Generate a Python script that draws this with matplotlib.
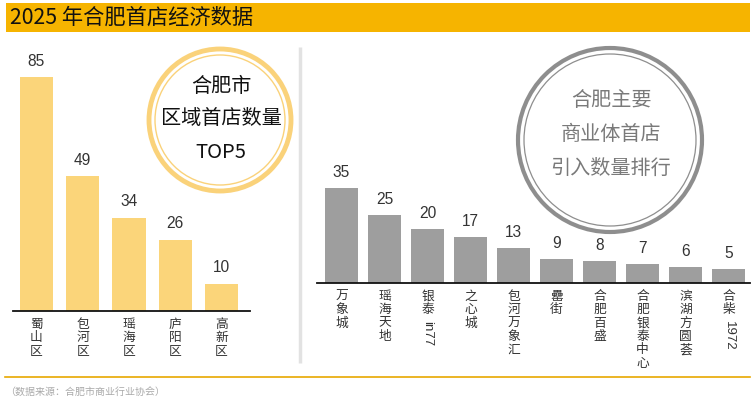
import matplotlib
matplotlib.use('Agg')
import matplotlib.pyplot as plt
from matplotlib.patches import Circle, Rectangle

plt.rcParams['font.family'] = ['Noto Sans CJK SC', 'DejaVu Sans']

# ── Data ──────────────────────────────────────────────
districts = ['蜀山区', '包河区', '瑶海区', '庐阳区', '高新区']
district_counts = [85, 49, 34, 26, 10]

malls = ['万象城', '瑶海天地', '银泰|in77', '之心城', '包河万象汇',
         '罍街', '合肥百盛', '合肥银泰中心', '滨湖方圆荟', '合柴|1972']
mall_counts = [35, 25, 20, 17, 13, 9, 8, 7, 6, 5]

# ── Palette ───────────────────────────────────────────
YELLOW_BAR = '#FBD57A'
YELLOW_RING = '#FAD27A'
TITLE_BG = '#F6B400'
GRAY_BAR = '#9E9E9E'
GRAY_RING = '#8E8E8E'
TEXT = '#333333'
NUM_FONT = ['Liberation Sans', 'DejaVu Sans']

W, H = 755, 404
fig = plt.figure(figsize=(W / 100, H / 100), dpi=100, facecolor='white')

# background overlay in pixel coords
bg = fig.add_axes([0, 0, 1, 1])
bg.set_xlim(0, W); bg.set_ylim(H, 0); bg.axis('off')

bg.add_patch(Rectangle((6, 3), 744, 29, facecolor=TITLE_BG, edgecolor='none'))
bg.text(10, 18, '2025 年合肥首店经济数据', fontsize=15.3, color='#111111',
        va='center', ha='left')

# separator and footer
bg.plot([300, 300], [47, 363], color='#E2E2E2', lw=2.5, solid_capstyle='butt')
bg.plot([5, 750], [377, 377], color='#E8A800', lw=1.2)
bg.text(5, 392, '（数据来源：合肥市商业行业协会）', fontsize=7.2, color='#AAAAAA',
        va='center', ha='left')

# circles
bg.add_patch(Circle((220, 120), 71, facecolor='white', edgecolor=YELLOW_RING, lw=3.5))
bg.add_patch(Circle((220, 120), 65, facecolor='none', edgecolor=YELLOW_RING, lw=1))
for txt, yy in zip(['合肥市', '区域首店数量', 'TOP5'], [86, 119, 152]):
    bg.text(221, yy, txt, fontsize=14.5, color='#111111', ha='center', va='center')

bg.add_patch(Circle((610, 140), 92, facecolor='white', edgecolor=GRAY_RING, lw=3))
bg.add_patch(Circle((610, 140), 86, facecolor='none', edgecolor=GRAY_RING, lw=0.9))
for txt, yy in zip(['合肥主要', '商业体首店', '引入数量排行'], [101, 134, 168]):
    bg.text(611, yy, txt, fontsize=14.5, color='#7A7A7A', ha='center', va='center')


def fx(px):
    return px / W


def fy(py):
    return 1 - py / H


def vertical_label(ax, x, label):
    """Stack CJK chars vertically; latin part after '|' is rotated."""
    cjk, _, latin = label.partition('|')
    step = 13.3
    y0 = -7
    for k, ch in enumerate(cjk):
        ax.annotate(ch, xy=(x, 0), xytext=(0, y0 - k * step),
                    textcoords='offset pixels', ha='center', va='top',
                    fontsize=9.2, color=TEXT, annotation_clip=False)
    if latin:
        ax.annotate(latin, xy=(x, 0), xytext=(0, y0 - len(cjk) * step - 4),
                    textcoords='offset pixels', ha='center', va='top',
                    rotation=-90, fontsize=9.5, color=TEXT,
                    family=NUM_FONT, annotation_clip=False)


def value_labels(ax, values):
    for i, v in enumerate(values):
        ax.annotate(str(v), xy=(i, v), xytext=(0, 8), textcoords='offset pixels',
                    ha='center', va='bottom', fontsize=11.2, color=TEXT,
                    family=NUM_FONT)


def style(ax):
    for s in ['top', 'right', 'left']:
        ax.spines[s].set_visible(False)
    ax.spines['bottom'].set_linewidth(1.3)
    ax.spines['bottom'].set_color('#111111')
    ax.set_xticks([]); ax.set_yticks([])
    ax.patch.set_alpha(0)


# ── Left chart ────────────────────────────────────────
ax1 = fig.add_axes([fx(13), fy(311), fx(237), (311 - 47) / H])
x1 = range(len(districts))
ax1.bar(x1, district_counts, width=0.714, color=YELLOW_BAR)
ax1.set_xlim(-0.508, 4.616)
ax1.set_ylim(0, (311 - 47) / 2.75)
style(ax1)
value_labels(ax1, district_counts)
for i, lab in enumerate(districts):
    vertical_label(ax1, i, lab)

# ── Right chart ───────────────────────────────────────
ax2 = fig.add_axes([fx(317), fy(283), fx(433), (283 - 47) / H])
x2 = range(len(malls))
ax2.bar(x2, mall_counts, width=0.767, color=GRAY_BAR)
ax2.set_xlim(-0.57, 9.5)
ax2.set_ylim(0, (283 - 47) / 2.72)
style(ax2)
value_labels(ax2, mall_counts)
for i, lab in enumerate(malls):
    vertical_label(ax2, i, lab)

fig.savefig('out.png', dpi=100, facecolor='white')
